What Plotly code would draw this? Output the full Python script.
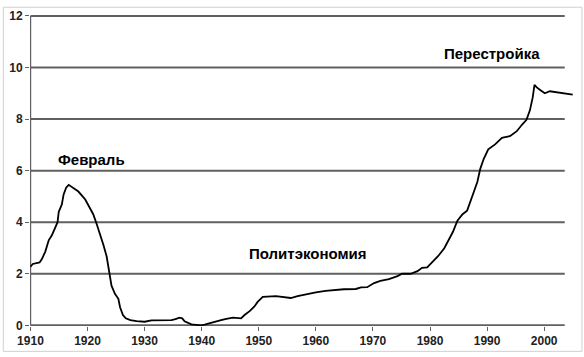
import plotly.graph_objects as go

years = [1910.0, 1910.4, 1911.6, 1912.0, 1912.6, 1913.2, 1913.75, 1914.3, 1914.75, 1914.95,
         1915.5, 1915.8, 1916.25, 1916.7, 1917.2, 1918.4, 1919.6, 1920.4, 1921.0, 1921.6,
         1922.2, 1922.8, 1923.35, 1923.8, 1924.2, 1924.8, 1925.4, 1925.7, 1926.2, 1926.7,
         1927.5, 1928.6, 1930.0, 1931.2, 1934.7, 1935.4, 1936.1, 1936.6, 1937.0, 1938.2,
         1939.9, 1940.5, 1941.7, 1943.4, 1944.3, 1945.5, 1946.9, 1947.5, 1948.4, 1949.2,
         1949.8, 1950.7, 1953.0, 1954.8, 1955.6, 1956.8, 1958.3, 1960.0, 1961.7, 1963.5,
         1964.9, 1967.0, 1967.9, 1969.0, 1970.2, 1971.3, 1972.8, 1974.3, 1975.1, 1976.6,
         1977.8, 1978.6, 1979.5, 1980.6, 1981.4, 1982.5, 1983.1, 1984.0, 1984.8, 1985.7,
         1986.5, 1987.2, 1987.7, 1988.3, 1988.8, 1989.4, 1990.2, 1991.4, 1992.6, 1994.0,
         1995.2, 1996.1, 1996.9, 1997.5, 1998.0, 1998.3, 1998.7, 1999.3, 2000.1, 2001.0,
         2002.2, 2003.4, 2005.0]
values = [2.27, 2.38, 2.44, 2.57, 2.86, 3.30, 3.49, 3.80, 4.00, 4.40,
          4.69, 5.07, 5.34, 5.45, 5.38, 5.19, 4.88, 4.56, 4.31, 3.93,
          3.56, 3.11, 2.67, 2.04, 1.54, 1.22, 1.03, 0.70, 0.40, 0.27,
          0.20, 0.16, 0.14, 0.19, 0.20, 0.24, 0.30, 0.27, 0.16, 0.04,
          0.00, 0.03, 0.11, 0.20, 0.25, 0.30, 0.27, 0.40, 0.55, 0.72,
          0.91, 1.10, 1.13, 1.10, 1.06, 1.13, 1.21, 1.28, 1.34, 1.38,
          1.40, 1.41, 1.47, 1.48, 1.64, 1.72, 1.79, 1.91, 2.00, 2.00,
          2.10, 2.23, 2.25, 2.50, 2.68, 2.99, 3.26, 3.62, 4.06, 4.31,
          4.45, 4.84, 5.19, 5.57, 6.07, 6.45, 6.83, 7.02, 7.27, 7.34,
          7.53, 7.78, 7.97, 8.34, 8.85, 9.33, 9.23, 9.13, 9.00, 9.08,
          9.04, 9.00, 8.95]

x_ticks = [1910, 1920, 1930, 1940, 1950, 1960, 1970, 1980, 1990, 2000]
y_ticks = [0, 2, 4, 6, 8, 10, 12]

labels = ["Февраль", "Политэкономия", "Перестройка"]
label_x = [1920.7, 1958.6, 1990.8]
label_y = [6.44, 2.77, 10.53]

x_start, x_end = 1910, 2003.6
grid_color = "#606060"

fig = go.Figure()
fig.add_trace(go.Scatter(x=years, y=values, mode="lines",
                         line=dict(color="black", width=1.8), showlegend=False))

shapes = []
for yv in y_ticks:
    shapes.append(dict(type="line", xref="x", yref="y", x0=x_start, x1=x_end, y0=yv, y1=yv,
                       line=dict(color=grid_color, width=2), layer="below"))
shapes.append(dict(type="line", xref="x", yref="y", x0=x_start, x1=x_start, y0=0, y1=12,
                   line=dict(color=grid_color, width=1.5), layer="below"))
shapes.append(dict(type="rect", xref="paper", yref="paper", x0=-0.049, x1=1.0128,
                   y0=-0.0815, y1=1.025, line=dict(color="#d0d0d0", width=1)))

annotations = []
for t, ax, ay in zip(labels, label_x, label_y):
    annotations.append(dict(x=ax, y=ay, text=t, showarrow=False,
                            font=dict(family="Liberation Sans, Arial", size=15, color="black"),
                            xanchor="center", yanchor="middle"))
annotations[0]["text"] = "<b>Февраль</b>"
annotations[1]["text"] = "<b>Политэкономия</b>"
annotations[2]["text"] = "<b>Перестройка</b>"

tickfont = dict(family="Liberation Sans, Arial", size=12, color="#222222")

fig.update_layout(
    width=584, height=357,
    margin=dict(l=28, r=9, t=9, b=29),
    paper_bgcolor="white", plot_bgcolor="white",
    shapes=shapes, annotations=annotations,
    xaxis=dict(range=[1909.92, 2005.4], tickvals=x_ticks,
               ticktext=["<b>%d</b>" % v for v in x_ticks],
               showgrid=False, zeroline=False, showline=False,
               ticks="outside", ticklen=4, tickcolor=grid_color, tickwidth=1,
               tickfont=tickfont),
    yaxis=dict(range=[-0.026, 12.038], tickvals=y_ticks,
               ticktext=["<b>%d</b>" % v for v in y_ticks],
               showgrid=False, zeroline=False, showline=False,
               ticks="outside", ticklen=4, tickcolor=grid_color, tickwidth=1,
               tickfont=tickfont),
)

fig.write_html("out.html")
